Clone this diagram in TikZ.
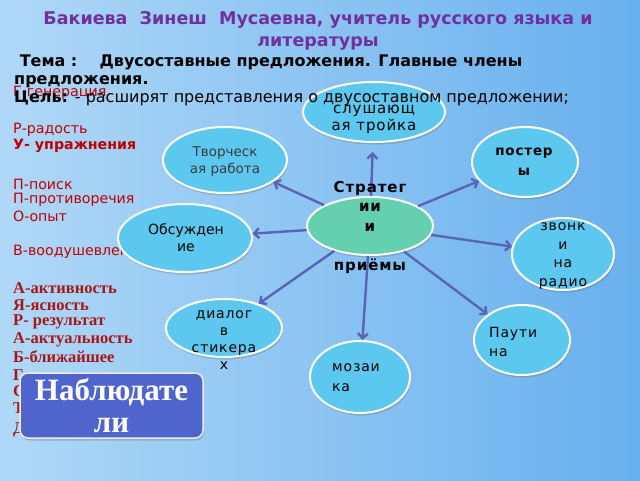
\documentclass[tikz,border=0pt]{standalone}
\usepackage{fontspec}
\setmainfont{DejaVu Sans}
\newfontfamily\serifb{Liberation Serif}
\newfontfamily\wide[LetterSpace=6]{DejaVu Sans}
\usetikzlibrary{shapes.geometric,shadows,arrows.meta}
\definecolor{bgl}{RGB}{176,216,247}
\definecolor{bgr}{RGB}{104,176,238}
\definecolor{bubc}{RGB}{92,200,240}
\definecolor{grnc}{RGB}{100,208,176}
\definecolor{arrc}{RGB}{88,100,180}
\definecolor{purp}{RGB}{112,48,160}
\definecolor{redt}{RGB}{192,0,0}
\definecolor{redd}{RGB}{168,22,22}
\definecolor{boxc}{RGB}{80,100,205}
\definecolor{gtxt}{RGB}{60,60,60}
\tikzset{
  bub/.style={ellipse, fill=bubc, draw=white, line width=2pt, inner sep=0pt,
    drop shadow={shadow xshift=1pt, shadow yshift=-2.5pt, opacity=0.3, fill=black!60}},
  con/.style={draw=arrc, line width=2.4pt, -{Straight Barb[length=5pt,width=10pt]}},
  lbl/.style={font=\wide\fontsize{14}{17}\selectfont, align=center, text=black, inner sep=0pt},
  redl/.style={anchor=west, text=redt, font=\fontsize{14.2}{16}\selectfont, inner sep=0pt},
  reds/.style={anchor=west, text=redd, font=\serifb\bfseries\fontsize{16.5}{18}\selectfont, inner sep=0pt},
}
\begin{document}
\begin{tikzpicture}[x=1pt,y=-1pt]
\useasboundingbox (0,0) rectangle (640,480);
\shade[left color=bgl, middle color=white, right color=bgr] (0,0) rectangle (640,480);

% red mnemonic list
\node[redl] (r1) at (13,93) {Г-генерация};
\node[redl] (r2) at (13,130) {Р-радость};
\node[redl, font=\bfseries\fontsize{14.2}{16}\selectfont] (r3) at (13,146) {У- упражнения};
\node[redl] (r4) at (13,184) {П-поиск};
\node[redl] (r5) at (13,200) {П-противоречия};
\node[redl] (r6) at (13,216) {О-опыт};
\node[redl] (r7) at (13,252) {В-воодушевление};
\node[reds] (s1) at (13,288) {А-активность};
\node[reds] (s2) at (13,305) {Я-ясность};
\node[reds] (s3) at (13,322) {Р- результат};
\node[reds] (s4) at (13,340) {А-актуальность};
\node[reds] (s5) at (13,357) {Б-ближайшее};
\node[reds] (s6) at (13,375) {Г};
\node[reds] (s7) at (13,391) {С};
\node[reds] (s8) at (13,408) {Т};
\node[reds] (s9) at (13,430) {Д};

% bubbles
\node[bub, minimum width=142pt, minimum height=60pt] (sl) at (374,112) {};
\node[bub, minimum width=124pt, minimum height=66pt] (tv) at (225,160) {};
\node[bub, minimum width=106pt, minimum height=70pt] (po) at (525,162) {};
\node[bub, minimum width=134pt, minimum height=68pt] (ob) at (185,238) {};
\node[bub, minimum width=102pt, minimum height=72pt] (zv) at (563,254) {};
\node[bub, minimum width=116pt, minimum height=58pt] (di) at (224,328) {};
\node[bub, minimum width=96pt, minimum height=70pt] (pa) at (522,340) {};
\node[bub, minimum width=100pt, minimum height=72pt] (mo) at (360,377) {};
\node[bub, fill=grnc, minimum width=126pt, minimum height=58pt] (st) at (370,226) {};

% connectors
\draw[con, shorten >=9pt] (st) -- (sl);
\draw[con] (st) -- (tv);
\draw[con] (st) -- (po);
\draw[con] (st) -- (ob);
\draw[con] (st) -- (zv);
\draw[con] (st) -- (di);
\draw[con] (st) -- (pa);
\draw[con] (st) -- (mo);

% bubble texts
\node[lbl, font=\wide\fontsize{15}{17}\selectfont] (tsl) at (374,119) {слушающ\\ая тройка};
\node[lbl, text=gtxt, font=\fontsize{13.5}{17}\selectfont] (ttv) at (225,161) {Творческ\\ая работа};
\node[lbl, font=\wide\bfseries\fontsize{13.5}{20}\selectfont] (tpo) at (524,162) {постер\\ы};
\node[lbl, font=\fontsize{14}{17}\selectfont] (tob) at (186,238) {Обсужден\\ие};
\node[lbl, font=\wide\fontsize{14}{18.5}\selectfont] (tzv) at (563,256) {звонк\\и\\на\\радио};
\node[lbl, font=\wide\fontsize{14}{17}\selectfont] (tdi) at (224,340) {диалог\\в\\стикера\\х};
\node[lbl, align=left, anchor=west, font=\wide\fontsize{14}{19}\selectfont] (tpa) at (489,342) {Паути\\на};
\node[lbl, align=left, anchor=west, font=\wide\fontsize{14}{20}\selectfont] (tmo) at (332,378) {мозаи\\ка};
\node[lbl, font=\wide\bfseries\fontsize{15}{19.5}\selectfont] (tst) at (370,227) {Стратег\\ии\\и\\\mbox{}\\приёмы};

% header
\node[align=center, text=purp, font=\bfseries\fontsize{17.5}{22}\selectfont, inner sep=0pt] (title) at (318,31)
  {Бакиева\ \ Зинеш\ \ Мусаевна, учитель русского языка и\\литературы};
\node[anchor=west, align=left, font=\bfseries\fontsize{16}{18}\selectfont, inner sep=0pt] (tema) at (14,71)
  {\ Тема :\ \ \ \ Двусоставные предложения. Главные члены\\предложения.};
\node[anchor=west, font=\fontsize{16}{18}\selectfont, inner sep=0pt] (cel) at (14,98)
  {\textbf{Цель:} - расширят представления о двусоставном предложении;};

% observers box
\node[fill=boxc, draw=white!85!gray, line width=1.5pt, rounded corners=8pt,
  minimum width=183pt, minimum height=65pt, inner sep=0pt, align=center, text=white,
  font=\serifb\bfseries\fontsize{31}{32}\selectfont,
  drop shadow={shadow xshift=1pt, shadow yshift=-2.5pt, opacity=0.3, fill=black!60}] (nb) at (111.5,405.5)
  {Наблюдате\\ли};
\end{tikzpicture}
\end{document}
